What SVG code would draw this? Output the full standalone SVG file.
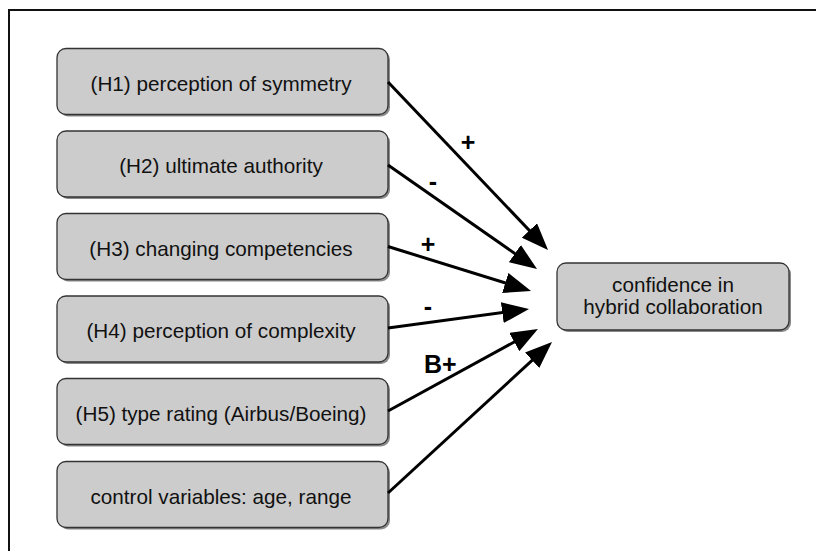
<svg xmlns="http://www.w3.org/2000/svg" width="816" height="551" viewBox="0 0 816 551">
  <style>
    .frame { fill: none; stroke: #111; stroke-width: 2; }
    .shadow { fill: #8a8a8a; }
    .box { fill: #cccccc; stroke: #333333; stroke-width: 1.3; }
    .lbl { font-family: "Liberation Sans", Arial, sans-serif; font-size: 20.7px; fill: #111; text-anchor: middle; }
    .sign { font-family: "Liberation Sans", Arial, sans-serif; font-size: 25px; font-weight: bold; fill: #000; }
    .edge { fill: none; stroke: #000; stroke-width: 3; marker-end: url(#head); }
  </style>
  <defs>
    <marker id="head" viewBox="0 0 9 7" refX="7" refY="3.5" markerWidth="9" markerHeight="7" markerUnits="strokeWidth" orient="auto">
      <path d="M0,0 L9,3.5 L0,7 z" fill="#000"/>
    </marker>
  </defs>

  <rect width="816" height="551" fill="#ffffff"/>
  <!-- outer frame, open to the right and bottom edges -->
  <rect class="frame" x="9" y="10" width="900" height="700"/>

  <g id="h1">
    <rect class="shadow" x="59" y="50.5" width="331" height="66" rx="9"/>
    <rect class="box" x="57" y="48.5" width="331" height="66" rx="9"/>
    <text class="lbl" x="221" y="90.5">(H1) perception of symmetry</text>
  </g>
  <g id="h2">
    <rect class="shadow" x="59" y="133" width="331" height="66" rx="9"/>
    <rect class="box" x="57" y="131" width="331" height="66" rx="9"/>
    <text class="lbl" x="221" y="173">(H2) ultimate authority</text>
  </g>
  <g id="h3">
    <rect class="shadow" x="59" y="215.5" width="331" height="66" rx="9"/>
    <rect class="box" x="57" y="213.5" width="331" height="66" rx="9"/>
    <text class="lbl" x="221" y="255.5">(H3) changing competencies</text>
  </g>
  <g id="h4">
    <rect class="shadow" x="59" y="298" width="331" height="66" rx="9"/>
    <rect class="box" x="57" y="296" width="331" height="66" rx="9"/>
    <text class="lbl" x="221" y="338">(H4) perception of complexity</text>
  </g>
  <g id="h5">
    <rect class="shadow" x="59" y="380.5" width="331" height="66" rx="9"/>
    <rect class="box" x="57" y="378.5" width="331" height="66" rx="9"/>
    <text class="lbl" x="221" y="420.5">(H5) type rating (Airbus/Boeing)</text>
  </g>
  <g id="controls">
    <rect class="shadow" x="59" y="463.5" width="331" height="66" rx="9"/>
    <rect class="box" x="57" y="461.5" width="331" height="66" rx="9"/>
    <text class="lbl" x="221" y="503.5">control variables: age, range</text>
  </g>
  <g id="confidence">
    <rect class="shadow" x="559" y="265" width="232" height="67" rx="9"/>
    <rect class="box" x="557" y="263" width="232" height="67" rx="9"/>
    <text class="lbl" x="673" y="291.5">confidence in</text>
    <text class="lbl" x="673" y="313.5">hybrid collaboration</text>
  </g>

  <g id="connectors">
    <line class="edge" x1="388" y1="82" x2="543.9" y2="245.7"/>
    <line class="edge" x1="388" y1="165" x2="532.1" y2="265.6"/>
    <line class="edge" x1="388" y1="246.5" x2="525.3" y2="289.2"/>
    <line class="edge" x1="388" y1="328" x2="523.1" y2="309.8"/>
    <line class="edge" x1="388" y1="411" x2="532.7" y2="331.9"/>
    <line class="edge" x1="388" y1="493" x2="547.6" y2="346.1"/>
    <text class="sign" x="468" y="151" text-anchor="middle">+</text>
    <text class="sign" x="433" y="190" text-anchor="middle">-</text>
    <text class="sign" x="428" y="253" text-anchor="middle">+</text>
    <text class="sign" x="428" y="315" text-anchor="middle">-</text>
    <text class="sign" x="424" y="373">B+</text>
  </g>
</svg>
